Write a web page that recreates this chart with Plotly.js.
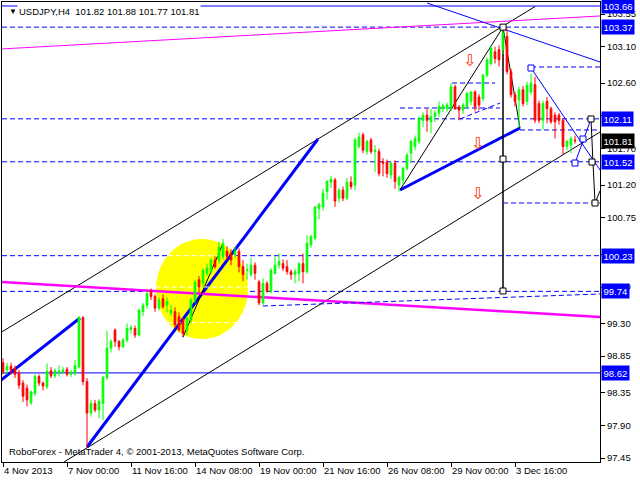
<!DOCTYPE html>
<html>
<head>
<meta charset="utf-8">
<script src="https://cdn.plot.ly/plotly-3.0.1.min.js"></script>
<style>html,body{margin:0;padding:0;background:#fff;}#chart{width:640px;height:480px;}</style>
</head>
<body>
<div id="chart"></div>
<script>
// ---- Data: USDJPY H4 candles ----
const openPrices = [98.76,98.66,98.71,98.68,98.62,98.48,98.41,98.21,98.34,98.57,98.48,98.43,98.65,98.58,98.64,98.63,98.67,98.60,98.62,98.70,
 99.38,98.50,98.07,98.20,98.11,98.20,98.56,98.96,99.21,99.05,98.98,99.07,99.22,99.23,99.14,99.46,99.55,99.74,99.67,99.51,
 99.64,99.55,99.44,99.46,99.39,99.35,99.21,99.35,99.62,99.90,99.85,99.99,100.01,100.17,100.17,100.22,100.29,100.26,100.24,100.29,
 100.08,100.03,99.97,100.10,99.87,99.58,99.85,99.74,99.99,100.10,100.12,100.08,100.01,99.97,99.99,100.12,100.01,100.38,100.47,100.88,
 100.90,101.11,101.24,101.27,101.02,101.13,101.02,101.24,101.20,101.73,101.89,101.66,101.82,101.66,101.66,101.52,101.52,101.34,101.50,101.20,
 101.27,101.43,101.64,101.73,101.80,102.09,102.16,102.07,102.14,102.19,102.25,102.25,102.25,102.55,102.27,102.23,102.28,102.35,102.48,102.41,
 102.39,102.71,102.87,103.03,103.06,103.06,103.24,102.76,102.44,102.37,102.51,102.35,102.48,102.58,102.32,102.09,102.35,102.25,102.16,102.16,
 102.09,101.73,101.75,101.82];
const highPrices = [98.82,98.76,98.76,98.72,98.66,98.52,98.46,98.38,98.60,98.60,98.50,98.75,98.70,98.68,98.72,98.70,98.70,98.66,98.80,99.40,
 99.40,98.55,98.25,98.25,98.26,98.58,99.20,99.08,99.23,99.07,99.10,99.30,99.28,99.27,99.50,99.58,99.74,99.78,99.70,99.66,
 99.70,99.66,99.55,99.52,99.45,99.38,99.40,99.65,99.90,99.95,100.05,100.12,100.20,100.22,100.42,100.46,100.36,100.32,100.36,100.33,
 100.17,100.12,100.20,100.14,99.90,99.92,99.88,100.06,100.22,100.26,100.18,100.17,100.04,100.05,100.14,100.26,100.51,100.52,100.90,100.96,
 101.15,101.27,101.33,101.30,101.16,101.18,101.30,101.32,101.85,101.92,101.92,101.82,101.85,101.75,101.70,101.57,101.55,101.52,101.54,101.33,
 101.45,101.64,101.82,101.88,102.14,102.20,102.25,102.25,102.23,102.35,102.32,102.33,102.60,102.58,102.30,102.33,102.48,102.49,102.50,102.45,
 102.73,102.95,103.12,103.10,103.12,103.37,103.35,102.80,102.48,102.55,102.56,102.62,102.73,102.69,102.36,102.36,102.41,102.28,102.20,102.19,
 102.12,101.82,101.87,101.88];
const lowPrices = [98.60,98.60,98.60,98.55,98.40,98.22,98.16,98.18,98.30,98.44,98.38,98.40,98.55,98.55,98.57,98.60,98.57,98.56,98.58,98.68,
 98.45,97.60,98.02,98.08,98.00,97.97,98.52,98.90,98.98,98.93,98.96,99.04,99.16,99.10,99.12,99.40,99.50,99.62,99.46,99.48,
 99.50,99.45,99.40,99.24,99.18,99.11,99.14,99.30,99.58,99.72,99.80,99.95,99.98,100.05,100.12,100.18,100.17,100.10,100.20,100.00,
 99.88,99.90,99.94,99.90,99.55,99.55,99.72,99.71,99.97,100.05,100.02,99.97,99.90,99.85,99.88,99.85,99.98,100.34,100.44,100.73,
 100.85,101.00,101.16,100.90,100.96,100.98,100.99,101.14,101.13,101.70,101.64,101.62,101.63,101.38,101.32,101.32,101.30,101.28,101.15,101.11,
 101.20,101.40,101.50,101.68,101.76,102.00,101.93,101.91,102.07,102.14,102.20,102.21,102.22,102.23,102.09,102.18,102.25,102.30,102.21,102.23,
 102.35,102.68,102.84,102.87,102.83,103.00,102.72,102.40,102.28,102.00,102.28,102.30,102.44,102.05,102.05,101.96,102.05,102.04,101.84,102.03,
 101.61,101.68,101.64,101.77];
const closePrices = [98.64,98.71,98.66,98.60,98.45,98.30,98.25,98.36,98.57,98.48,98.44,98.64,98.58,98.65,98.645,98.66,98.60,98.62,98.72,99.38,
 98.50,98.07,98.20,98.11,98.23,98.56,98.96,99.05,99.05,98.98,99.07,99.23,99.24,99.14,99.48,99.55,99.71,99.67,99.51,99.62,
 99.53,99.60,99.48,99.28,99.21,99.16,99.37,99.62,99.87,99.80,100.03,100.06,100.17,100.08,100.35,100.40,100.22,100.17,100.29,100.08,
 99.97,100.035,100.10,99.99,99.58,99.85,99.74,100.03,100.10,100.15,100.06,100.01,99.97,100.01,100.12,100.01,100.40,100.49,100.90,100.93,
 101.09,101.25,101.28,100.98,101.13,101.02,101.24,101.18,101.82,101.86,101.68,101.80,101.66,101.68,101.36,101.50,101.36,101.50,101.25,101.30,
 101.43,101.61,101.80,101.84,102.12,102.16,102.09,102.14,102.19,102.28,102.29,102.30,102.55,102.25,102.23,102.30,102.46,102.48,102.28,102.30,
 102.71,102.92,103.08,102.94,102.92,103.29,102.76,102.44,102.35,102.51,102.32,102.57,102.60,102.09,102.09,102.32,102.25,102.07,102.07,102.09,
 101.73,101.80,101.84,101.81];

// time-axis labels (bar index of each label, label text)
const timeTickBars = [0,16,32,48,64,80,96,112,128];
const timeTickText = ['4 Nov 2013','7 Nov 00:00','11 Nov 16:00','14 Nov 08:00','19 Nov 00:00','21 Nov 16:00','26 Nov 08:00','29 Nov 00:00','3 Dec 16:00'];
// price-axis ticks (labels fully covered by level boxes are left blank)
const priceTicks = [97.45,97.90,98.35,98.85,99.30,99.80,100.25,100.75,101.20,101.70,102.15,102.60,103.10,103.55];
const priceTickText = ['97.45','97.90','98.35','98.85','99.30','99.80','','100.75','101.20','101.70','','102.60','103.10','103.55'];

// horizontal price levels drawn across the chart
const levelPrices = [103.66,103.37,102.11,101.52,100.23,99.74,98.62];
const levelDash   = ['solid','dash','dash','dash','dash','dash','solid'];
const lastPrice = 101.81;
const headerText = 'USDJPY,H4\u00a0\u00a0101.82 101.88 101.77 101.81';
const copyrightText = 'RoboForex - MetaTrader 4, \u00a9 2001-2013, MetaQuotes Software Corp.';

// analysis drawings: [bar0, price0, bar1, price1, color, width, dash]
const drawLines = [
 [-0.75,99.168,133,103.652,'#000000',1,'solid'],
 [15.25,97.396,149.25,101.929,'#000000',1,'solid'],
 [-0.75,98.509,19.25,99.374,'#0000FF',3,'solid'],
 [21,97.602,78.75,101.833,'#0000FF',3,'solid'],
 [99.25,101.132,129.25,101.984,'#0000FF',3,'solid'],
 [99.25,101.132,125,103.37,'#000000',1,'solid'],
 [125,103.37,129.25,101.984,'#000000',1,'solid'],
 [125,103.37,125,99.745,'#000000',1.5,'solid'],
 [-0.75,103.069,149.25,103.523,'#FF00FF',1,'solid'],
 [-0.75,99.869,149.25,99.388,'#FF00FF',2.5,'solid'],
 [106,103.701,149.25,102.891,'#0000FF',1,'solid'],
 [45,99.11,55,100.40,'#000000',1,'solid'],
 [132,102.808,149.25,101.407,'#0000FF',1,'solid'],
 [143,101.503,147,102.108,'#0000FF',1,'solid'],
 [147,102.108,147.5,101.503,'#000000',1,'solid'],
 [147.5,101.503,148,100.954,'#000000',1,'solid'],
 [148,100.954,149.25,101.12,'#000000',1,'solid'],
 [132,102.822,149.25,102.822,'#0000FF',1,'dash'],
 [129.25,101.957,149.25,101.957,'#0000FF',1,'dash'],
 [125,100.954,149.25,100.954,'#0000FF',1,'dash'],
 [99.25,102.259,124.25,102.259,'#0000FF',1,'dash'],
 [112.25,102.602,123,102.602,'#0000FF',1,'dash'],
 [114.25,102.108,124.25,102.327,'#0000FF',1,'dash'],
 [65,99.539,149.25,99.704,'#0000FF',1,'dash'],
 [41.25,100.23,58.25,100.23,'#FFFFFF',1,'dash'],
 [38.25,99.80,61.25,99.80,'#FFFFFF',1,'dash'],
 [41.25,99.31,58.25,99.31,'#FFFFFF',1,'dash']
];
// ellipse [bar0, bar1, price0, price1]
const ellipse = [38.25,61.25,99.086,100.459];
// anchor squares: bar, price, outline colour
const anchorBars   = [125,132,145,143,147.25,147,148,125,125];
const anchorPrices = [103.37,102.808,101.833,101.503,101.517,102.108,100.954,101.558,99.745];
const anchorColors = ['#000000','#0000FF','#0000FF','#0000FF','#000000','#000000','#000000','#000000','#000000'];
// sell arrows
const arrowBars = [116.5,118.5,118.5];
const arrowPrices = [102.918,101.778,101.091];

// ---- build ----
const barIndex = openPrices.map((_, i) => i);
const DASH = '5px,3px';
const FONT = 'Liberation Sans, Arial, sans-serif';
const FS = 9.5;

const shapes = [];
shapes.push({type:'circle', xref:'x', yref:'y', x0:ellipse[0], x1:ellipse[1], y0:ellipse[2], y1:ellipse[3],
  fillcolor:'#FFFF00', line:{width:0}, layer:'below'});
levelPrices.forEach((p, i) => {
  shapes.push({type:'line', xref:'paper', yref:'y', x0:0, x1:1, y0:p, y1:p, layer:'below',
    line:{color:'#0000FF', width:1, dash: levelDash[i] === 'dash' ? DASH : 'solid'}});
});
drawLines.forEach(l => {
  shapes.push({type:'line', xref:'x', yref:'y', x0:l[0], y0:l[1], x1:l[2], y1:l[3], layer:'below',
    line:{color:l[4], width:l[5], dash: l[6] === 'dash' ? DASH : 'solid'}});
});

const annotations = [];
// header
annotations.push({xref:'paper', yref:'paper', x:0, y:1, xanchor:'left', yanchor:'top', xshift:5, yshift:-3,
  text:'\u25BC', showarrow:false, font:{family:FONT, size:8, color:'#000'}});
annotations.push({xref:'paper', yref:'paper', x:0, y:1, xanchor:'left', yanchor:'top', xshift:15, yshift:-2,
  text:headerText, showarrow:false, bgcolor:'#FFFFFF', borderpad:1, font:{family:FONT, size:FS, color:'#000'}});
annotations.push({xref:'paper', yref:'paper', x:0, y:0, xanchor:'left', yanchor:'bottom', xshift:5, yshift:3,
  text:copyrightText, showarrow:false, font:{family:FONT, size:FS, color:'#000'}});
// price labels
levelPrices.forEach(p => {
  annotations.push({xref:'paper', yref:'y', x:1, y:p, xanchor:'left', yanchor:'middle', xshift:1,
    text:p.toFixed(2), showarrow:false, bgcolor:'#0000FF', borderpad:1.5, font:{family:FONT, size:FS, color:'#FFFFFF'}});
});
annotations.push({xref:'paper', yref:'y', x:1, y:lastPrice, xanchor:'left', yanchor:'middle', xshift:1,
  text:lastPrice.toFixed(2), showarrow:false, bgcolor:'#000000', borderpad:1.5, font:{family:FONT, size:FS, color:'#FFFFFF'}});
arrowBars.forEach((b, i) => {
  annotations.push({xref:'x', yref:'y', x:b, y:arrowPrices[i], text:'\u21E9', showarrow:false,
    font:{family:'DejaVu Sans', size:16, color:'#FF3300'}});
});

const traces = [
  {type:'candlestick', x:barIndex, open:openPrices, high:highPrices, low:lowPrices, close:closePrices,
   increasing:{line:{color:'#00FF00', width:1}, fillcolor:'#00FF00'},
   decreasing:{line:{color:'#FF0000', width:1}, fillcolor:'#FF0000'},
   whiskerwidth:0, showlegend:false, hoverinfo:'skip'},
  {type:'scatter', mode:'markers', x:anchorBars, y:anchorPrices, showlegend:false, hoverinfo:'skip',
   marker:{symbol:'square', size:6, color:'#FFFFFF', line:{color:anchorColors, width:1}}}
];

const layout = {
  width:640, height:480,
  margin:{l:2, r:40, t:2, b:18, pad:0},
  paper_bgcolor:'#FFFFFF', plot_bgcolor:'#FFFFFF',
  showlegend:false, boxgap:0.4,
  font:{family:FONT, size:FS, color:'#000'},
  xaxis:{type:'linear', range:[-0.25,149.25], rangeslider:{visible:false}, showgrid:false, zeroline:false,
    tickmode:'array', tickvals:timeTickBars, ticktext:timeTickText, ticks:'outside', ticklen:4, tickcolor:'#000',
    tickangle:0, ticklabelposition:'outside right', showline:true, linecolor:'#000', linewidth:1, mirror:true,
    tickfont:{family:FONT, size:FS, color:'#000'}, fixedrange:true},
  yaxis:{range:[97.396,103.715], side:'right', showgrid:false, zeroline:false,
    tickmode:'array', tickvals:priceTicks, ticktext:priceTickText, ticks:'outside', ticklen:4, tickcolor:'#000',
    showline:true, linecolor:'#000', linewidth:1, mirror:true,
    tickfont:{family:FONT, size:FS, color:'#000'}, fixedrange:true},
  shapes:shapes, annotations:annotations
};

Plotly.newPlot('chart', traces, layout, {displayModeBar:false, staticPlot:true});
</script>
</body>
</html>
